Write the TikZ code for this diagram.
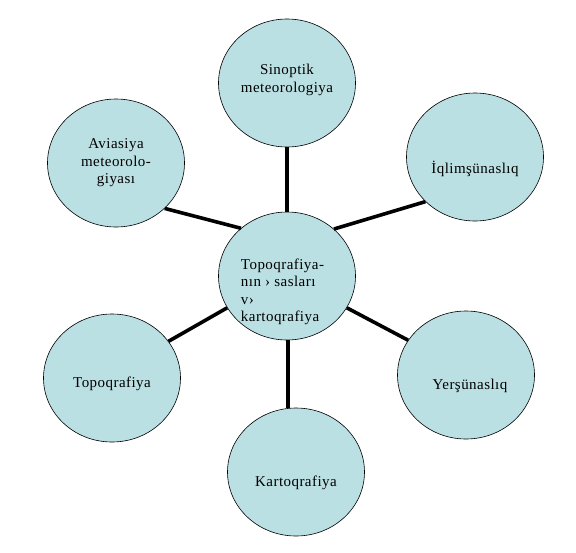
\documentclass[tikz,border=0pt]{standalone}
\usepackage{fontspec}
\setmainfont[LetterSpace=3]{Liberation Serif}
\usetikzlibrary{shapes.geometric}
\definecolor{ringfill}{RGB}{187,224,227}
\tikzset{
  ring/.style={ellipse,draw=black,line width=0.6pt,fill=ringfill,
    minimum width=137pt,minimum height=128pt,inner sep=0pt},
  ringtext/.style={font=\fontsize{15}{17.5}\selectfont,align=center,inner sep=0pt},
  link/.style={line width=3.6pt}
}
\begin{document}
\begin{tikzpicture}[x=1pt,y=-1pt]
\useasboundingbox (0,0) rectangle (576,552);
\node[ring,label={[ringtext,align=left,xshift=-4.5pt,yshift=-16pt]center:{Topoqrafiya-\\nın › sasları\\v›\\kartoqrafiya}}] (mid) at (287,276) {};
\node[ring,label={[ringtext,yshift=3pt]center:{Sinoptik\\meteorologiya}}] (sinop) at (287,83) {};
\node[ring,label={[ringtext,yshift=-12pt]center:{İqlimşünaslıq}}] (iqlim) at (475,157) {};
\node[ring,label={[ringtext]center:{Aviasiya\\meteorolo-\\giyası}}] (avia) at (116,163) {};
\node[ring,label={[ringtext,yshift=-6pt]center:{Topoqrafiya}}] (topo) at (112,378) {};
\node[ring,label={[ringtext,xshift=4pt,yshift=-11pt]center:{Yerşünaslıq}}] (yer) at (466,375) {};
\node[ring,label={[ringtext,yshift=-11pt]center:{Kartoqrafiya}}] (karto) at (296,472) {};
% spokes
\draw[link] (mid.90) -- (sinop.270);
\draw[link] (mid.45) -- (iqlim.222);
\draw[link] (mid.134) -- (avia.317);
\draw[link] (mid.208) -- (topo.33);
\draw[link] (mid.332) -- (yer.149);
\draw[link] ([xshift=1pt]mid.270) -- ([xshift=1pt]mid.270 |- karto.north);
\end{tikzpicture}
\end{document}
